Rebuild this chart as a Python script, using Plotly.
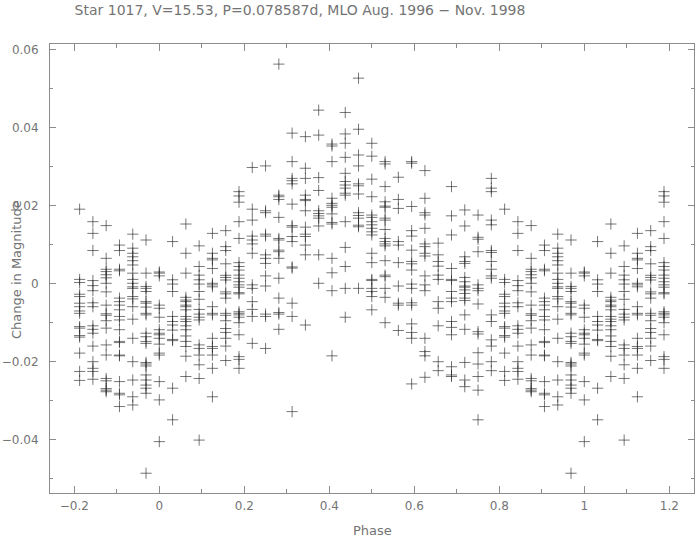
import plotly.graph_objects as go

# phase bins (fraction of cycle), one per observation column, 0..1
bin_phase = [k / 32 for k in range(32)]

# change in magnitude (units of 0.001 mag) per phase bin
m00 = [2.9, 2.6, 1.9, -5.6, -6.4, -8.7, -11.9, -12.8, -13.2, -14.1, -15.6, -17.9, -18.4, -25.2, -29.9, -40.6]
m01 = [10.7, 0.9, -0.2, -2.1, -8.5, -9.8, -10.7, -12.0, -14.4, -14.7, -26.9, -35.0]
m02 = [15.2, 7.7, 2.6, -3.6, -4.3, -4.7, -5.6, -6.0, -6.8, -8.5, -9.2, -9.8, -10.9, -11.9, -13.5, -14.9, -16.2, -18.7, -23.9]
m03 = [9.6, 4.3, 2.1, 0.9, -0.2, -2.1, -4.1, -6.7, -7.9, -8.7, -9.4, -15.8, -16.7, -18.4, -20.9, -24.4, -40.2]
m04 = [12.8, 7.7, 6.4, 6.0, 3.8, 0.0, -0.4, -0.9, -6.0, -7.7, -8.1, -14.1, -16.2, -16.7, -18.4, -21.8, -29.1]
m05 = [13.5, 9.4, 8.4, 5.0, 2.05, 1.5, 0.85, -2.2, -2.7, -3.8, -7.7, -8.2, -9.6, -11.6, -12.6, -14.1, -16.1, -19.8]
m06 = [23.5, 22.4, 20.8, 15.8, 11.5, 5.3, 4.3, 3.4, 2.1, 1.3, 0.4, -0.4, -1.0, -2.4, -2.7, -7.3, -7.7, -8.1, -8.7, -10.1, -13.2, -18.8, -19.5, -21.8]
m07 = [29.7, 19.0, 16.2, 12.1, 11.1, 10.1, 7.7, -0.4, -1.3, -4.7, -6.7, -8.5, -15.4]
m08 = [30.1, 18.6, 18.1, 12.6, 12.1, 7.3, 6.4, 5.1, 1.9, -0.7, -7.9, -8.5, -16.7]
m09 = [56.2, 22.6, 22.2, 21.5, 16.9, 11.5, 11.1, 8.5, 8.1, 6.4, 1.3, -3.8, -7.5, -7.9, -11.8]
m10 = [38.5, 31.2, 26.9, 26.3, 25.5, 20.3, 14.8, 14.4, 12.0, 10.7, 4.2, 3.9, -5.1, -8.5, -32.9]
m11 = [37.6, 29.5, 26.9, 22.6, 21.5, 21.2, 18.6, 14.4, 12.6, 12.0, 9.8, 7.3, -10.7]
m12 = [44.4, 38.0, 27.1, 23.8, 18.6, 17.9, 17.3, 16.7, 14.7, 7.3, 0.0]
m13 = [35.7, 35.2, 31.2, 21.8, 20.5, 20.0, 19.5, 17.8, 15.6, 15.2, 6.4, 2.7, -1.9, -18.6]
m14 = [43.8, 38.3, 35.9, 32.3, 28.2, 26.1, 25.2, 24.4, 23.1, 22.6, 15.8, 9.2, 4.3, -1.3, -8.7]
m15 = [52.6, 39.5, 32.9, 30.1, 25.5, 25.0, 22.9, 18.1, 17.4, 16.7, 14.9, 14.5, -1.3]
m16 = [35.9, 32.6, 26.7, 22.2, 17.5, 16.9, 15.8, 15.0, 14.1, 13.2, 12.4, 7.7, 5.3, 1.0, 0.7, -1.3, -2.1, -3.4, -6.8]
m17 = [31.2, 30.6, 24.8, 20.9, 19.8, 19.5, 16.7, 16.2, 13.8, 11.5, 10.7, 10.1, 9.6, 5.8, 2.1, 1.7, -1.3, -3.6, -10.1]
m18 = [27.2, 21.5, 19.2, 10.7, 9.8, 5.3, -0.7, -5.1, -5.6, -12.1]
m19 = [31.2, 30.8, 19.7, 13.5, 12.1, 8.5, 5.6, 5.0, 3.4, -0.2, -1.3, -5.0, -5.6, -10.4, -12.6, -14.1, -25.8]
m20 = [28.9, 21.8, 18.1, 17.5, 14.1, 10.1, 9.4, 7.7, 7.0, 1.9, -0.4, -1.9, -14.1, -17.5, -18.6, -24.1]
m21 = [10.3, 7.3, 5.6, 4.4, 2.1, 1.0, -4.7, -6.4, -10.9, -20.1, -22.4]
m22 = [24.8, 17.3, 12.4, 3.8, 1.0, 0.7, -2.1, -3.8, -4.7, -9.8, -11.3, -13.2, -21.4, -23.5, -23.9]
m23 = [18.8, 14.7, 6.8, 5.6, 5.1, 1.5, 0.4, -0.7, -1.0, -1.7, -2.6, -3.8, -4.4, -8.1, -11.8, -20.3, -24.8, -26.5]
m24 = [17.5, 11.8, 11.3, 8.1, -0.4, -1.3, -1.9, -5.3, -12.4, -13.0, -17.8, -20.7, -23.9, -27.4, -35.0]
m25 = [26.9, 24.4, 23.5, 16.2, 15.0, 8.4, 7.9, 5.6, 3.6, 1.9, 1.3, -8.1, -9.8, -14.5, -16.1, -20.1, -22.4]
m26 = [19.0, 1.0, 0.2, -2.8, -3.4, -5.1, -6.0, -7.1, -7.7, -11.1, -11.5, -13.4, -13.8, -17.9, -22.6, -24.9]
m27 = [15.8, 12.8, 8.4, 0.7, -0.6, -1.9, -5.0, -6.0, -10.9, -11.8, -12.8, -16.1, -20.1, -21.8, -22.6, -24.6]
m28 = [14.8, 6.4, 3.6, 3.0, 2.2, 1.4, 0.0, -2.2, -5.6, -7.8, -8.2, -9.6, -11.5, -15.8, -18.4, -24.4, -25.0, -27.0, -27.4, -27.8]
m29 = [9.8, 8.4, 3.6, 3.2, -3.8, -4.7, -5.6, -6.8, -8.5, -9.4, -11.9, -14.9, -15.2, -18.4, -18.6, -25.2, -28.2, -28.6, -31.6]
m30 = [12.6, 9.0, 7.7, 6.8, 5.8, 4.7, 2.6, 1.0, 0.0, -0.9, -1.3, -3.4, -4.0, -6.0, -9.2, -14.1, -20.1, -24.8, -29.1, -31.2]
m31 = [11.1, 2.6, -0.8, -1.3, -2.1, -4.7, -5.1, -6.1, -7.7, -8.1, -12.8, -13.7, -14.9, -15.4, -20.3, -20.7, -21.2, -23.5, -24.8, -26.1, -26.9, -28.2, -48.7]

bin_mags = [m00, m01, m02, m03, m04, m05, m06, m07, m08, m09, m10, m11, m12, m13, m14, m15,
            m16, m17, m18, m19, m20, m21, m22, m23, m24, m25, m26, m27, m28, m29, m30, m31]

title_text = "Star 1017, V=15.53, P=0.078587d, MLO Aug. 1996 \u2212 Nov. 1998"
x_title = "Phase"
y_title = "Change in Magnitude"

xs, ys = [], []
for ph, ms in zip(bin_phase, bin_mags):
    for m in ms:
        v = m / 1000.0
        xs.append(ph); ys.append(v)
        if ph >= 0.8:          # folded light curve shown from -0.2 to 1.2
            xs.append(ph - 1); ys.append(v)
        if ph <= 0.2:
            xs.append(ph + 1); ys.append(v)

fig = go.Figure(go.Scatter(
    x=xs, y=ys, mode="markers",
    marker=dict(symbol="cross-thin", size=8, line=dict(width=1, color="rgba(35,35,35,0.62)")),
    hoverinfo="x+y", showlegend=False))

FONT = "DejaVu Sans, Liberation Sans, sans-serif"
GRAY = "#747474"
tick_font = dict(family=FONT, size=12, color=GRAY)
lab_font = dict(family=FONT, size=13, color=GRAY)

fig.update_layout(
    width=695, height=539,
    margin=dict(l=50, r=1, t=44, b=46, autoexpand=False),
    paper_bgcolor="white", plot_bgcolor="white",
    title=dict(text=title_text, x=300 / 695, xanchor="center", y=1 - 10 / 539, yanchor="middle",
               font=dict(family=FONT, size=14, color=GRAY)),
    xaxis=dict(range=[-0.2572, 1.2581], tickmode="linear", tick0=0, dtick=0.2,
               ticks="inside", ticklen=7, tickcolor="#8c8c8c", showline=True, linecolor="#8c8c8c",
               mirror="ticks", showgrid=False, zeroline=False, tickfont=tick_font, automargin=False,
               ticklabelstandoff=2,
               minor=dict(ticks="inside", ticklen=4, dtick=0.1, tickcolor="#8c8c8c", showgrid=False)),
    yaxis=dict(range=[-0.05377, 0.06136], tickmode="linear", tick0=0, dtick=0.02,
               ticks="inside", ticklen=6, tickcolor="#8c8c8c", showline=True, linecolor="#8c8c8c",
               mirror="ticks", showgrid=False, zeroline=False, tickfont=tick_font, automargin=False,
               ticklabelstandoff=8,
               minor=dict(ticks="inside", ticklen=3, dtick=0.01, tickcolor="#8c8c8c", showgrid=False)),
    annotations=[
        dict(text=x_title, xref="paper", yref="paper", x=(372 - 50) / 644, y=-(530 - 493) / 449,
             xanchor="center", yanchor="middle", showarrow=False, font=lab_font),
        dict(text=y_title, xref="paper", yref="paper", x=-(50 - 16) / 644, y=(493 - 270) / 449,
             xanchor="center", yanchor="middle", showarrow=False, textangle=-90, font=lab_font),
    ],
)

fig.write_html("out.html", config={"displayModeBar": False},
               post_script="document.body.style.margin='0';document.body.style.overflow='hidden';")
